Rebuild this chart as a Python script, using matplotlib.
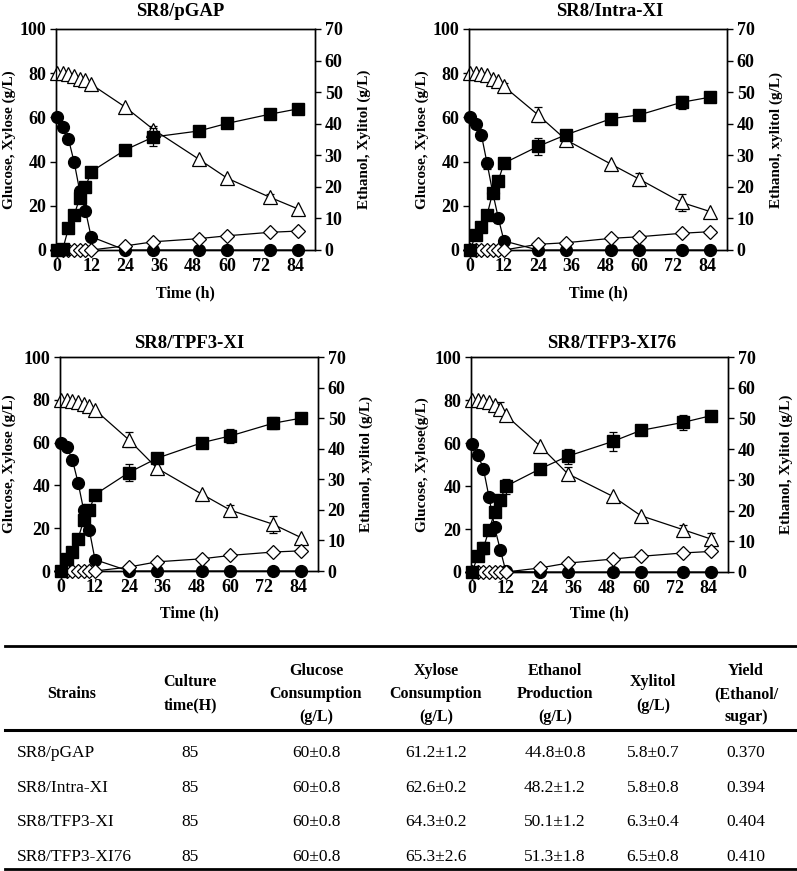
import matplotlib
matplotlib.use('Agg')
import matplotlib.pyplot as plt
from matplotlib.lines import Line2D

plt.rcParams['font.family'] = ['Liberation Serif', 'DejaVu Serif']
plt.rcParams['font.weight'] = 'bold'

# sampling times (h)
time_h = [0, 2, 4, 6, 8, 10, 12, 24, 34, 50, 60, 75, 85]

# SR8/pGAP
glc_pgap = [60, 55.6, 50.2, 39.8, 26.5, 17.8, 6.0, 0, 0, 0, 0, 0, 0]
xyl_pgap = [80, 80, 79.7, 78.8, 77.5, 76.8, 75, 64.7, 54.5, 41.1, 32.5, 23.9, 18.6]
eth_pgap = [0, 0.3, 6.9, 11.1, 16.5, 19.9, 24.8, 31.7, 35.8, 37.7, 40.1, 43.0, 44.7]
xol_pgap = [0, 0, 0, 0, 0, 0, 0, 1.3, 2.6, 3.6, 4.5, 5.6, 6.0]
glc_pgap_err = [0, 0, 0, 0, 0, 0, 0, 0, 0, 0, 0, 0, 0]
xyl_pgap_err = [0, 0, 0, 0, 0, 0, 0, 0, 1.5, 0, 0, 1.5, 0]
eth_pgap_err = [0, 0, 0, 0, 0, 0, 0, 0, 3.0, 0, 0, 0, 0]

# SR8/Intra-XI
glc_intra = [60, 57, 52, 39.3, 26, 14.4, 4.1, 0, 0, 0, 0, 0, 0]
xyl_intra = [80, 80, 79.7, 79, 77.5, 76.5, 74, 61.2, 49.8, 38.8, 32, 21.5, 17.4]
eth_intra = [0, 4.8, 7.2, 11.1, 18.2, 22, 27.5, 32.8, 36.5, 41.6, 42.8, 46.8, 48.4]
xol_intra = [0, 0, 0, 0, 0, 0, 0, 1.8, 2.3, 3.7, 4.2, 5.3, 5.8]
glc_intra_err = [0, 0, 0, 2.5, 0, 2.0, 0, 0, 0, 0, 0, 0, 0]
xyl_intra_err = [0, 0, 0, 0, 0, 0, 1.5, 3.5, 0, 0, 3.0, 4.0, 0]
eth_intra_err = [0, 0, 0, 0, 0, 0, 0, 2.8, 0, 0, 0, 2.0, 0]

# SR8/TPF3-XI
glc_tpf3 = [60, 58.1, 51.9, 41.3, 28.4, 19.1, 5.3, 0, 0, 0, 0, 0, 0]
xyl_tpf3 = [80, 80, 79.5, 79, 78, 77, 75.3, 61.3, 48, 35.8, 28.4, 21.9, 15.6]
eth_tpf3 = [0, 4.0, 6.2, 10.6, 16.6, 19.9, 25, 32.2, 36.9, 42, 44.2, 48.3, 50]
xol_tpf3 = [0, 0, 0, 0, 0, 0, 0, 1.3, 3.0, 4.0, 5.1, 6.2, 6.6]
glc_tpf3_err = [0, 0, 0, 0, 0, 2.0, 0, 0, 0, 0, 0, 0, 0]
xyl_tpf3_err = [0, 0, 0, 0, 0, 0, 0, 3.5, 0, 0, 2.5, 4.0, 0]
eth_tpf3_err = [0, 0, 0, 0, 0, 0, 0, 2.8, 0, 0, 2.2, 2.0, 0]

# SR8/TFP3-XI76
glc_xi76 = [59.7, 54.6, 48.1, 34.9, 20.8, 10.4, 0.3, 0, 0, 0, 0, 0, 0]
xyl_xi76 = [80, 80, 79.7, 79, 77.5, 76, 72.9, 58.8, 45.7, 35.2, 26.2, 19.7, 15.3]
eth_xi76 = [0, 5.1, 7.8, 13.6, 19.4, 23.5, 27.9, 33.5, 37.7, 42.5, 46.1, 48.7, 50.9]
xol_xi76 = [0, 0, 0, 0, 0, 0, 0, 1.3, 2.9, 4.2, 5.1, 6.2, 6.7]
glc_xi76_err = [0, 0, 0, 0, 0, 0, 0, 0, 0, 0, 0, 0, 0]
xyl_xi76_err = [0, 0, 0, 0, 0, 3.0, 0, 0, 3.0, 0, 0, 2.0, 3.0]
eth_xi76_err = [0, 0, 2.0, 0, 0, 0, 2.5, 0, 2.5, 3.0, 0, 2.5, 0]

# table
tbl_header = ['Strains', 'Culture\ntime(H)', 'Glucose\nConsumption\n(g/L)',
              'Xylose\nConsumption\n(g/L)', 'Ethanol\nProduction\n(g/L)',
              'Xylitol\n(g/L)', 'Yield\n(Ethanol/\nsugar)']
tbl_strains = ['SR8/pGAP', 'SR8/Intra-XI', 'SR8/TFP3-XI', 'SR8/TFP3-XI76']
tbl_time = ['85', '85', '85', '85']
tbl_glucose = ['60±0.8', '60±0.8', '60±0.8', '60±0.8']
tbl_xylose = ['61.2±1.2', '62.6±0.2', '64.3±0.2', '65.3±2.6']
tbl_ethanol = ['44.8±0.8', '48.2±1.2', '50.1±1.2', '51.3±1.8']
tbl_xylitol = ['5.8±0.7', '5.8±0.8', '6.3±0.4', '6.5±0.8']
tbl_yield = ['0.370', '0.394', '0.404', '0.410']

W, H = 797, 871
fig = plt.figure(figsize=(W / 100, H / 100), dpi=100)


def px_rect(left, top, right, bottom):
    return [left / W, (H - bottom) / H, (right - left) / W, (bottom - top) / H]


def errs(ax, y, e, z):
    xs = [t for t, v in zip(time_h, e) if v > 0]
    ys = [a for a, v in zip(y, e) if v > 0]
    es = [v for v in e if v > 0]
    if xs:
        ax.errorbar(xs, ys, yerr=es, fmt='none', ecolor='black', elinewidth=0.9,
                    capsize=3, capthick=0.9, zorder=z, clip_on=False)


def panel(box, title, title_x, title_y, glc, glc_e, xyl, xyl_e, eth, eth_e, xol,
          left_lab, right_lab, lab_l, lab_r, time_y):
    ax = fig.add_axes(px_rect(*box))
    ax2 = ax.twinx()
    errs(ax, glc, glc_e, 1)
    errs(ax, xyl, xyl_e, 1)
    ax.plot(time_h, glc, '-o', color='black', mfc='black', mec='black', ms=8.5,
            lw=0.9, clip_on=False, zorder=3)
    ax.plot(time_h, xyl, '-^', color='black', mfc='white', mec='black', ms=9.5,
            mew=0.9, lw=0.9, clip_on=False, zorder=3)
    errs(ax2, eth, eth_e, 1)
    ax2.plot(time_h, xol, '-D', color='black', mfc='white', mec='black', ms=7,
             mew=0.9, lw=0.9, clip_on=False, zorder=3)
    ax2.plot(time_h, eth, '-s', color='black', mfc='black', mec='black', ms=8.5,
             lw=0.9, clip_on=False, zorder=3)

    ax.set_xlim(-0.4, 91)
    ax.set_ylim(0, 100)
    ax2.set_ylim(0, 70)
    ax.set_xticks(range(0, 85, 12))
    ax.set_yticks(range(0, 101, 20))
    ax2.set_yticks(range(0, 71, 10))
    for a in (ax, ax2):
        for s in a.spines.values():
            s.set_linewidth(1.0)
        a.tick_params(axis='y', direction='out', length=4, width=1, labelsize=13, pad=3)
    ax.tick_params(axis='x', length=0, labelsize=13, pad=6)

    fig.text(title_x / W, 1 - title_y / H, title, ha='center', va='center',
             fontsize=13.5, fontweight='bold')
    cy = 1 - (box[1] + box[3]) / 2 / H
    fig.text(lab_l / W, cy, left_lab, rotation=90, ha='center', va='center',
             fontsize=11, fontweight='bold')
    fig.text(lab_r / W, cy, right_lab, rotation=90, ha='center', va='center',
             fontsize=11, fontweight='bold')
    fig.text((box[0] + box[2]) / 2 / W, 1 - time_y / H, 'Time (h)', ha='center',
             va='center', fontsize=11.5, fontweight='bold')


panel((56, 29, 315, 250), 'SR8/pGAP', 180, 11, glc_pgap, glc_pgap_err, xyl_pgap,
      xyl_pgap_err, eth_pgap, eth_pgap_err, xol_pgap,
      'Glucose, Xylose (g/L)', 'Ethanol, Xylitol (g/L)', 9, 364, 293)
panel((469, 29, 727, 250), 'SR8/Intra-XI', 610, 11, glc_intra, glc_intra_err, xyl_intra,
      xyl_intra_err, eth_intra, eth_intra_err, xol_intra,
      'Glucose, Xylose (g/L)', 'Ethanol, xylitol (g/L)', 422, 776, 293)
panel((60, 357, 318, 571), 'SR8/TPF3-XI', 189, 343, glc_tpf3, glc_tpf3_err, xyl_tpf3,
      xyl_tpf3_err, eth_tpf3, eth_tpf3_err, xol_tpf3,
      'Glucose, Xylose (g/L)', 'Ethanol, xylitol (g/L)', 9, 366, 613)
panel((471, 357, 728, 572), 'SR8/TFP3-XI76', 612, 343, glc_xi76, glc_xi76_err, xyl_xi76,
      xyl_xi76_err, eth_xi76, eth_xi76_err, xol_xi76,
      'Glucose, Xylose(g/L)', 'Ethanol, Xylitol (g/L)', 422, 786, 613)

# table drawn in pixel space
for y, lw in [(646, 2.0), (730, 2.2), (869, 2.0)]:
    fig.add_artist(Line2D([5 / W, 1], [1 - y / H, 1 - y / H], color='black', lw=lw))

col_x = [72, 190, 316, 436, 555, 653, 746]
row_y = [753, 788, 822, 857]
for x, txt in zip(col_x, tbl_header):
    fig.text(x / W, 1 - 694 / H, txt, ha='center', va='center', fontsize=11.5,
             fontweight='bold', linespacing=1.6)
cols = [tbl_time, tbl_glucose, tbl_xylose, tbl_ethanol, tbl_xylitol, tbl_yield]
for i, y in enumerate(row_y):
    fig.text(17 / W, 1 - y / H, tbl_strains[i], ha='left', va='center',
             fontsize=12.5, fontweight='normal')
    for x, col in zip(col_x[1:], cols):
        fig.text(x / W, 1 - y / H, col[i], ha='center', va='center', fontsize=12.5,
                 fontweight='normal')

fig.savefig('out.png', dpi=100)
